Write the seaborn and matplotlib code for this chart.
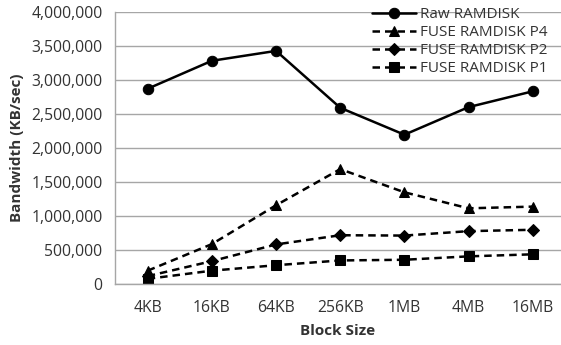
import pandas as pd
import seaborn as sns
from matplotlib import pyplot as plt
from matplotlib.ticker import FuncFormatter

block_sizes = ['4KB', '16KB', '64KB', '256KB', '1MB', '4MB', '16MB']
raw_ramdisk = [2870000, 3280000, 3425000, 2590000, 2195000, 2600000, 2832000]
fuse_p4 = [200000, 590000, 1160000, 1690000, 1350000, 1115000, 1140000]
fuse_p2 = [120000, 340000, 585000, 720000, 715000, 780000, 800000]
fuse_p1 = [80000, 200000, 280000, 350000, 360000, 410000, 440000]

series = [
    ('Raw RAMDISK', raw_ramdisk, 'o', '-'),
    ('FUSE RAMDISK P4', fuse_p4, '^', (0, (3, 2))),
    ('FUSE RAMDISK P2', fuse_p2, 'D', (0, (3, 2))),
    ('FUSE RAMDISK P1', fuse_p1, 's', (0, (3, 2))),
]

sns.set_style('white')
plt.rcParams['font.family'] = ['Open Sans', 'DejaVu Sans']

fig = plt.figure(figsize=(5.61, 3.45), dpi=100)
ax = fig.add_axes([115 / 561, 1 - 284.3 / 345, 1 - 115 / 561, (284.3 - 11.7) / 345])

for name, values, marker, ls in series:
    df = pd.DataFrame({'x': range(len(block_sizes)), 'y': values})
    ms = 6 if marker == 'D' else 7.5
    sns.lineplot(data=df, x='x', y='y', ax=ax, color='black', marker=marker,
                 markersize=ms, markeredgecolor='black', linewidth=1.8,
                 linestyle=ls, label=name)

ax.set_xlim(-0.51, 6.44)
ax.set_ylim(0, 4000000)
ax.set_yticks(range(0, 4000001, 500000))
ax.yaxis.set_major_formatter(FuncFormatter(lambda v, p: f'{int(v):,}'))
ax.set_xticks(range(len(block_sizes)))
ax.set_xticklabels(block_sizes)
ax.tick_params(axis='both', length=0, labelsize=11.3, colors='#333333')
ax.tick_params(axis='y', pad=9)
ax.tick_params(axis='x', pad=11)
ax.grid(axis='y', color='#a6a6a6', linewidth=1)
ax.set_axisbelow(True)
for s in ['top', 'right']:
    ax.spines[s].set_visible(False)
for s in ['left', 'bottom']:
    ax.spines[s].set_color('#a6a6a6')
    ax.spines[s].set_linewidth(1)

ax.set_xlabel('Block Size', fontsize=11, fontweight='bold', color='#333333', labelpad=6)
ax.set_ylabel('Bandwidth (KB/sec)', fontsize=11, fontweight='bold', color='#333333', labelpad=5)

leg = ax.legend(loc='upper left', bbox_to_anchor=(372 / 561, 1 - 7 / 345),
                bbox_transform=fig.transFigure, frameon=False, fontsize=11,
                handlelength=2.9, handletextpad=0.25, labelspacing=0.2,
                borderaxespad=0, borderpad=0)
for t in leg.get_texts():
    t.set_color('#333333')

fig.savefig('out.png', dpi=100)
